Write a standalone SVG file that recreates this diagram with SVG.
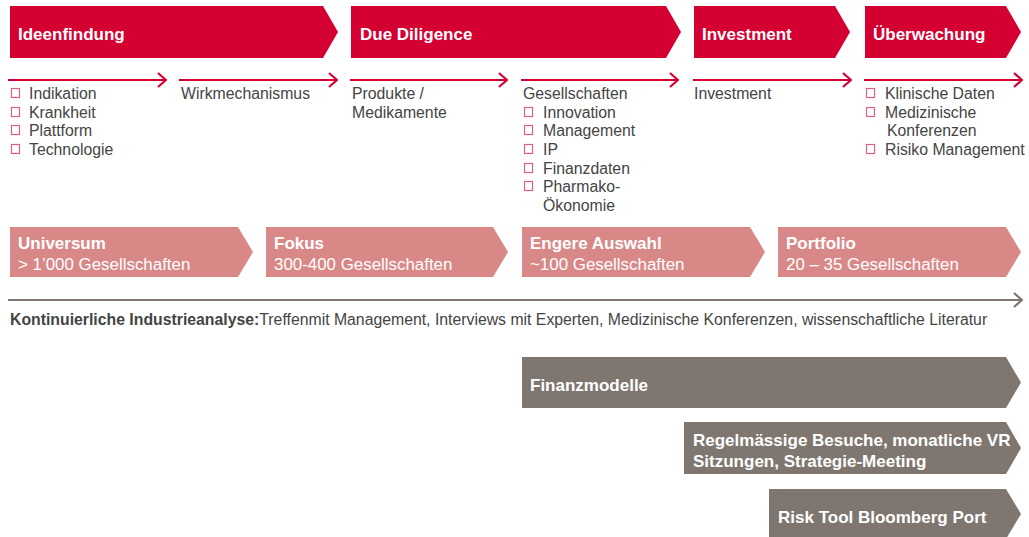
<svg xmlns="http://www.w3.org/2000/svg" width="1029" height="537" viewBox="0 0 1029 537">
<defs>
<marker id="ar" viewBox="0 0 10 16" refX="9" refY="8" markerWidth="10" markerHeight="16" markerUnits="userSpaceOnUse" orient="auto">
<path d="M1,1 L9,8 L1,15" fill="none" stroke="#D50032" stroke-width="2.2"/>
</marker>
<marker id="ag" viewBox="0 0 10 16" refX="9" refY="8" markerWidth="10" markerHeight="16" markerUnits="userSpaceOnUse" orient="auto">
<path d="M1,1 L9,8 L1,15" fill="none" stroke="#807870" stroke-width="2.2"/>
</marker>
</defs>
<style>
text{font-family:"Liberation Sans",Arial,sans-serif}
.h{font-size:17px;font-weight:bold;fill:#fff}
.w{font-size:16.9px;fill:#fff}
.t{font-size:15.8px;fill:#444}
.cb{fill:none;stroke:#E06080;stroke-width:1.2}
.red{fill:#D50032}
.pink{fill:#D98888}
.gray{fill:#7F776F}
.ln{stroke:#D50032;stroke-width:2.2;fill:none}
</style>
<rect width="1029" height="537" fill="#fff"/>

<g id="phase-ideenfindung"><polygon class="red" points="10,6 323,6 338,32 323,58 10,58"/><text class="h" x="18" y="40">Ideenfindung</text></g>
<g id="phase-due-diligence"><polygon class="red" points="351,6 666,6 681,32 666,58 351,58"/><text class="h" x="360" y="40">Due Diligence</text></g>
<g id="phase-investment"><polygon class="red" points="694,6 835,6 850,32 835,58 694,58"/><text class="h" x="702" y="40">Investment</text></g>
<g id="phase-ueberwachung"><polygon class="red" points="865,6 1006,6 1021,32 1006,58 865,58"/><text class="h" x="873" y="40">Überwachung</text></g>

<g id="connectors">
<line class="ln" x1="8" y1="80" x2="166" y2="80" marker-end="url(#ar)"/>
<line class="ln" x1="179" y1="80" x2="337" y2="80" marker-end="url(#ar)"/>
<line class="ln" x1="350" y1="80" x2="507" y2="80" marker-end="url(#ar)"/>
<line class="ln" x1="521" y1="80" x2="678" y2="80" marker-end="url(#ar)"/>
<line class="ln" x1="693" y1="80" x2="851" y2="80" marker-end="url(#ar)"/>
<line class="ln" x1="864" y1="80" x2="1022" y2="80" marker-end="url(#ar)"/>
<line x1="8" y1="300" x2="1022" y2="300" stroke="#807870" stroke-width="2.2" marker-end="url(#ag)"/>
</g>

<g id="list-ideenfindung">
<rect class="cb" x="11.5" y="88.5" width="8" height="9"/><text class="t" x="29" y="99">Indikation</text>
<rect class="cb" x="11.5" y="107.5" width="8" height="9"/><text class="t" x="29" y="118">Krankheit</text>
<rect class="cb" x="11.5" y="125.5" width="8" height="9"/><text class="t" x="29" y="136">Plattform</text>
<rect class="cb" x="11.5" y="144.5" width="8" height="9"/><text class="t" x="29" y="155">Technologie</text>
</g>
<g id="list-wirk"><text class="t" x="181" y="99">Wirkmechanismus</text></g>
<g id="list-produkte"><text class="t" x="352" y="99">Produkte /</text><text class="t" x="352" y="118">Medikamente</text></g>
<g id="list-gesellschaften">
<text class="t" x="523" y="99">Gesellschaften</text>
<rect class="cb" x="524.5" y="107.5" width="8" height="9"/><text class="t" x="543" y="118">Innovation</text>
<rect class="cb" x="524.5" y="125.5" width="8" height="9"/><text class="t" x="543" y="136">Management</text>
<rect class="cb" x="524.5" y="144.5" width="8" height="9"/><text class="t" x="543" y="155">IP</text>
<rect class="cb" x="524.5" y="163.5" width="8" height="9"/><text class="t" x="543" y="174">Finanzdaten</text>
<rect class="cb" x="524.5" y="181.5" width="8" height="9"/><text class="t" x="543" y="192">Pharmako-</text>
<text class="t" x="543" y="211">Ökonomie</text>
</g>
<g id="list-investment"><text class="t" x="694" y="99">Investment</text></g>
<g id="list-ueberwachung">
<rect class="cb" x="866.5" y="88.5" width="8" height="9"/><text class="t" x="885" y="99">Klinische Daten</text>
<rect class="cb" x="866.5" y="107.5" width="8" height="9"/><text class="t" x="885" y="118">Medizinische</text>
<text class="t" x="887" y="136">Konferenzen</text>
<rect class="cb" x="866.5" y="144.5" width="8" height="9"/><text class="t" x="885" y="155">Risiko Management</text>
</g>

<g id="stage-universum"><polygon class="pink" points="10,227 238,227 253,252 238,277 10,277"/><text class="h" x="18" y="249">Universum</text><text class="w" x="18" y="270">&gt; 1’000 Gesellschaften</text></g>
<g id="stage-fokus"><polygon class="pink" points="266,227 493,227 508,252 493,277 266,277"/><text class="h" x="274" y="249">Fokus</text><text class="w" x="274" y="270">300-400 Gesellschaften</text></g>
<g id="stage-engere"><polygon class="pink" points="522,227 750,227 765,252 750,277 522,277"/><text class="h" x="530" y="249">Engere Auswahl</text><text class="w" x="530" y="270">~100 Gesellschaften</text></g>
<g id="stage-portfolio"><polygon class="pink" points="778,227 1006,227 1021,252 1006,277 778,277"/><text class="h" x="786" y="249">Portfolio</text><text class="w" x="786" y="270">20 – 35 Gesellschaften</text></g>

<g id="industrieanalyse"><text x="10" y="325" style="font-size:15.8px;fill:#444"><tspan font-weight="bold">Kontinuierliche Industrieanalyse:</tspan>Treffenmit Management, Interviews mit Experten, Medizinische Konferenzen, wissenschaftliche Literatur</text></g>

<g id="tool-finanzmodelle"><polygon class="gray" points="522,357 1006,357 1021,382.5 1006,408 522,408"/><text class="h" x="530" y="391">Finanzmodelle</text></g>
<g id="tool-besuche"><polygon class="gray" points="684,422 1006,422 1021,448 1006,474 684,474"/><text class="h" x="693" y="446">Regelmässige Besuche, monatliche VR</text><text class="h" x="693" y="467">Sitzungen, Strategie-Meeting</text></g>
<g id="tool-risk"><polygon class="gray" points="769,489 1006,489 1021,514 1006,539 769,539"/><text class="h" x="778" y="523">Risk Tool Bloomberg Port</text></g>
</svg>
